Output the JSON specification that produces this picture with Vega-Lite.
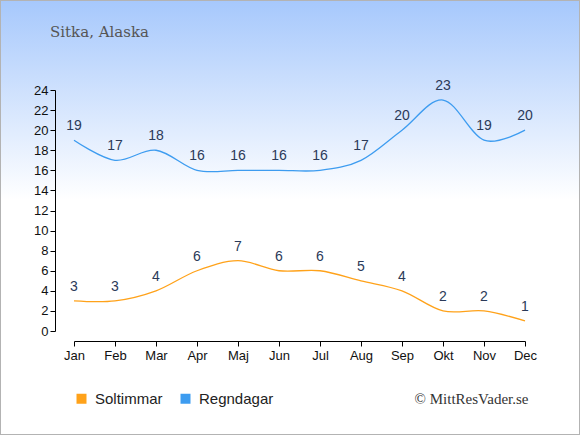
{
  "$schema": "https://vega.github.io/schema/vega-lite/v6.json",
  "width": 580,
  "height": 435,
  "autosize": {"type": "none"},
  "padding": 0,
  "background": "#ffffff",
  "config": {
    "view": {
      "stroke": "#b3b3b3",
      "strokeWidth": 2,
      "fill": {
        "gradient": "linear",
        "x1": 0, "y1": 0, "x2": 0, "y2": 1,
        "stops": [
          {"offset": 0, "color": "#a6c8fc"},
          {"offset": 0.46, "color": "#ffffff"},
          {"offset": 1, "color": "#ffffff"}
        ]
      }
    },
    "axis": {
      "labelFont": "Liberation Sans",
      "labelFontSize": 13,
      "labelColor": "#111111",
      "domainColor": "#000000",
      "tickColor": "#000000",
      "grid": false
    }
  },
  "title": {
    "text": "Sitka, Alaska",
    "anchor": "start",
    "frame": "group",
    "font": "DejaVu Serif",
    "fontSize": 15,
    "fontWeight": "normal",
    "color": "#555555",
    "offset": 0,
    "dx": 50,
    "dy": 52,
    "baseline": "alphabetic"
  },
  "data": {
    "values": [
      {"month": "Jan", "series": "Soltimmar", "value": 3},
      {"month": "Feb", "series": "Soltimmar", "value": 3},
      {"month": "Mar", "series": "Soltimmar", "value": 4},
      {"month": "Apr", "series": "Soltimmar", "value": 6},
      {"month": "Maj", "series": "Soltimmar", "value": 7},
      {"month": "Jun", "series": "Soltimmar", "value": 6},
      {"month": "Jul", "series": "Soltimmar", "value": 6},
      {"month": "Aug", "series": "Soltimmar", "value": 5},
      {"month": "Sep", "series": "Soltimmar", "value": 4},
      {"month": "Okt", "series": "Soltimmar", "value": 2},
      {"month": "Nov", "series": "Soltimmar", "value": 2},
      {"month": "Dec", "series": "Soltimmar", "value": 1},
      {"month": "Jan", "series": "Regndagar", "value": 19},
      {"month": "Feb", "series": "Regndagar", "value": 17},
      {"month": "Mar", "series": "Regndagar", "value": 18},
      {"month": "Apr", "series": "Regndagar", "value": 16},
      {"month": "Maj", "series": "Regndagar", "value": 16},
      {"month": "Jun", "series": "Regndagar", "value": 16},
      {"month": "Jul", "series": "Regndagar", "value": 16},
      {"month": "Aug", "series": "Regndagar", "value": 17},
      {"month": "Sep", "series": "Regndagar", "value": 20},
      {"month": "Okt", "series": "Regndagar", "value": 23},
      {"month": "Nov", "series": "Regndagar", "value": 19},
      {"month": "Dec", "series": "Regndagar", "value": 20}
    ]
  },
  "encoding": {
    "x": {
      "field": "month",
      "type": "ordinal",
      "sort": null,
      "scale": {
        "type": "point",
        "domain": ["Jan","Feb","Mar","Apr","Maj","Jun","Jul","Aug","Sep","Okt","Nov","Dec"],
        "range": [74, 525],
        "padding": 0
      },
      "axis": {
        "orient": "bottom",
        "offset": -94,
        "labelAngle": 0,
        "tickSize": 5,
        "labelPadding": 3,
        "title": "© MittResVader.se",
        "titleFont": "Liberation Serif",
        "titleFontSize": 15,
        "titleFontWeight": "normal",
        "titleColor": "#333333",
        "titleX": 528,
        "titleY": 57,
        "titleAlign": "right",
        "titleBaseline": "middle",
        "titleAnchor": "end"
      }
    },
    "y": {
      "field": "value",
      "type": "quantitative",
      "scale": {"domain": [0, 24], "range": [331, 90], "nice": false, "zero": false},
      "axis": {
        "orient": "left",
        "offset": -55,
        "values": [0,2,4,6,8,10,12,14,16,18,20,22,24],
        "tickSize": 5,
        "labelPadding": 2,
        "title": null
      }
    }
  },
  "layer": [
    {
      "mark": {"type": "line", "interpolate": "cardinal", "strokeWidth": 1.3},
      "encoding": {
        "color": {
          "field": "series",
          "type": "nominal",
          "scale": {"domain": ["Soltimmar", "Regndagar"], "range": ["#ffa21a", "#3d9cf0"]},
          "legend": {
            "orient": "none",
            "legendX": 74,
            "legendY": 391,
            "direction": "horizontal",
            "title": null,
            "symbolType": "square",
            "symbolSize": 100,
            "symbolStrokeWidth": 0,
            "labelFont": "Liberation Sans",
            "labelFontSize": 15,
            "labelColor": "#222222",
            "columnPadding": 15,
            "labelOffset": 6,
            "padding": 0,
            "encode": {
              "symbols": {"update": {"fill": {"scale": "color", "field": "value"}, "fillOpacity": {"value": 1}}}
            }
          }
        }
      }
    },
    {
      "mark": {
        "type": "text",
        "dy": -14,
        "baseline": "middle",
        "font": "Liberation Sans",
        "fontSize": 14,
        "color": "#2b3a58"
      },
      "encoding": {"text": {"field": "value", "type": "quantitative"}}
    }
  ]
}
